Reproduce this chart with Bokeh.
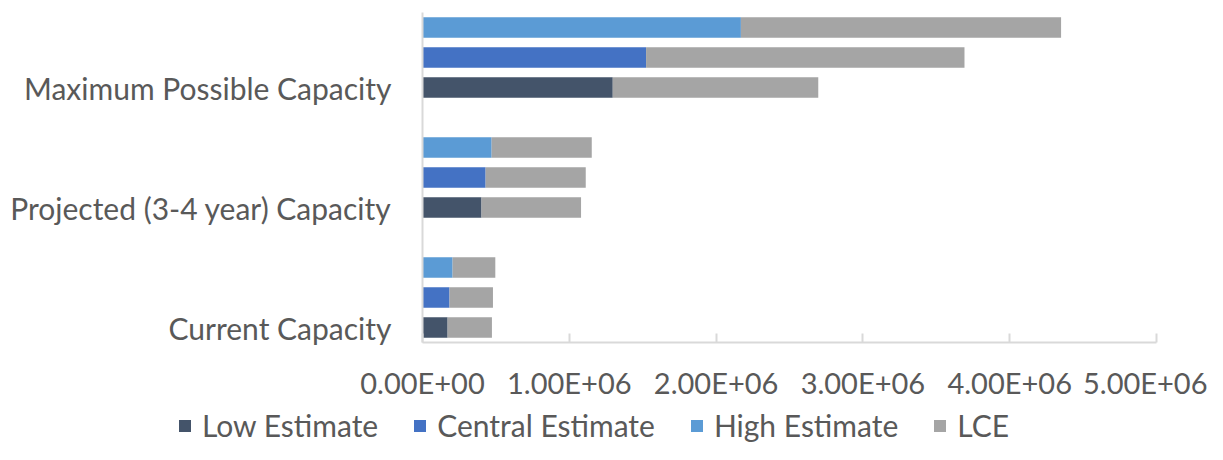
from bokeh.plotting import figure
from bokeh.models import ColumnDataSource, FixedTicker, Legend, LegendItem, Range1d
from bokeh.embed import file_html
from bokeh.resources import INLINE

# ---- data ----
categories = ["Current Capacity", "Projected (3-4 year) Capacity", "Maximum Possible Capacity"]
series = ["Low Estimate", "Central Estimate", "High Estimate"]
low_estimate = [0.171e6, 0.402e6, 1.296e6]
central_estimate = [0.184e6, 0.430e6, 1.523e6]
high_estimate = [0.205e6, 0.471e6, 2.169e6]
lce_on_low = [0.302e6, 0.678e6, 1.400e6]
lce_on_central = [0.296e6, 0.682e6, 2.169e6]
lce_on_high = [0.291e6, 0.682e6, 2.181e6]
x_ticks = [0, 1e6, 2e6, 3e6, 4e6, 5e6]
x_tick_labels = ["0.00E+00", "1.00E+06", "2.00E+06", "3.00E+06", "4.00E+06", "5.00E+06"]
legend_labels = ["Low Estimate", "Central Estimate", "High Estimate", "LCE"]

colors = {"Low Estimate": "#44546A", "Central Estimate": "#4472C4",
          "High Estimate": "#5B9BD5", "LCE": "#A5A5A5"}
FONT = "Lato"
TEXT = "#595959"
AXIS = "#D9D9D9"

est_values = [low_estimate, central_estimate, high_estimate]
lce_values = [lce_on_low, lce_on_central, lce_on_high]

# each category occupies 3 bar slots + 1 gap slot
SLOTS_PER_GROUP = 4

p = figure(width=1207, height=402, output_backend="svg", toolbar_location=None,
           x_range=Range1d(0, 5e6), y_range=Range1d(0, 11),
           min_border_left=422, min_border_right=51, min_border_top=12, min_border_bottom=59)
p.outline_line_color = None
p.xgrid.visible = False
p.ygrid.visible = False

for s_idx, s in enumerate(series):
    ys = [c_idx * SLOTS_PER_GROUP + s_idx + 0.5 for c_idx in range(len(categories))]
    est = est_values[s_idx]
    tot = [e + l for e, l in zip(est, lce_values[s_idx])]
    src = ColumnDataSource(dict(y=ys, right=est, lce_right=tot))
    p.hbar(y="y", left=0, right="right", height=0.68, source=src,
           fill_color=colors[s], line_color=None)
    p.hbar(y="y", left="right", right="lce_right", height=0.68, source=src,
           fill_color=colors["LCE"], line_color=None)

# x axis
xa = p.xaxis[0]
xa.ticker = FixedTicker(ticks=x_ticks)
xa.major_label_overrides = {t: l for t, l in zip(x_ticks, x_tick_labels)}
xa.axis_line_color = AXIS
xa.axis_line_width = 2
xa.major_tick_line_color = AXIS
xa.major_tick_line_width = 2
xa.major_tick_in = 9
xa.major_tick_out = 0
xa.minor_tick_line_color = None
xa.major_label_text_font = FONT
xa.major_label_text_font_size = "29px"
xa.major_label_text_color = TEXT
xa.major_label_standoff = 22

# y axis (category labels)
ya = p.yaxis[0]
cat_ticks = [c_idx * SLOTS_PER_GROUP + 0.5 for c_idx in range(len(categories))]
ya.ticker = FixedTicker(ticks=cat_ticks)
ya.major_label_overrides = {t: c for t, c in zip(cat_ticks, categories)}
ya.axis_line_color = AXIS
ya.axis_line_width = 2
ya.major_tick_line_color = None
ya.major_tick_in = 0
ya.major_tick_out = 0
ya.minor_tick_line_color = None
ya.major_label_text_font = FONT
ya.major_label_text_font_size = "30px"
ya.major_label_text_color = TEXT
ya.major_label_standoff = 31

# legend in a separate strip below (its own root, frame spans the whole strip)
lg = figure(width=1207, height=42, output_backend="svg", toolbar_location=None,
            x_range=Range1d(0, 1), y_range=Range1d(0, 1),
            x_axis_location=None, y_axis_location=None,
            min_border=0, min_border_left=0, min_border_right=0,
            min_border_top=0, min_border_bottom=0)
lg.outline_line_color = None
lg.xgrid.visible = False
lg.ygrid.visible = False
items = []
for name in legend_labels:
    r = lg.hbar(y=[5], left=[5], right=[6], height=0.5, fill_color=colors[name], line_color=None)
    items.append(LegendItem(label=name, renderers=[r]))
legend = Legend(items=items, orientation="horizontal", location=(177, -1),
                glyph_width=15, glyph_height=15, label_height=40, label_standoff=10,
                spacing=34, padding=0, margin=0, border_line_color=None,
                background_fill_alpha=0,
                label_text_font=FONT, label_text_font_size="30px",
                label_text_color=TEXT)
lg.add_layout(legend, "center")

open("out.html", "w").write(file_html([p, lg], INLINE))
